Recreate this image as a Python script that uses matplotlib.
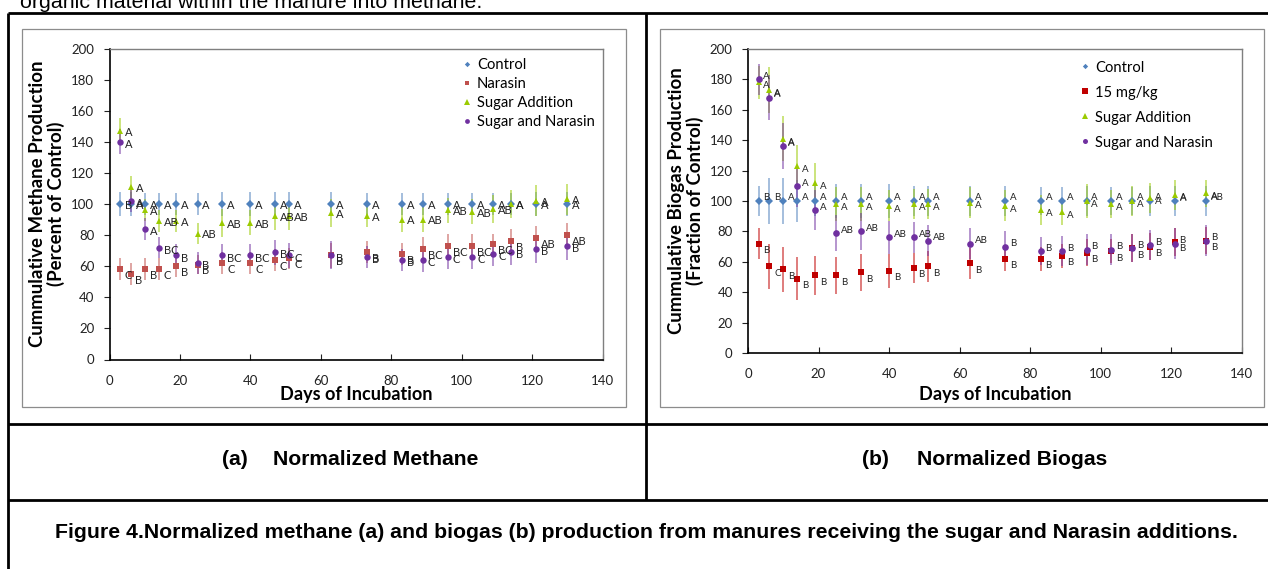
"""Normalized methane and biogas production figure (two panels in a table layout)."""
import matplotlib
matplotlib.use("Agg")
import matplotlib.pyplot as plt
from matplotlib.colors import to_rgba
from matplotlib.lines import Line2D
from matplotlib.patches import Rectangle

W, H = 1268, 569

days = [3, 6, 10, 14, 19, 25, 32, 40, 47, 51, 63, 73, 83, 89, 96, 103, 109, 114, 121, 130]

# (a) cumulative methane, percent of control
ch4_control = [100, 100, 100, 100, 100, 100, 100, 100, 100, 100, 100, 100, 100, 100, 100, 100, 100, 100, 100, 100]
ch4_control_err = [8, 8, 7, 7, 7, 7, 8, 8, 8, 8, 8, 7, 7, 7, 7, 7, 7, 7, 8, 8]
ch4_narasin = [58, 55, 58, 58, 60, 61, 62, 62, 64, 65, 67, 69, 68, 71, 73, 73, 74, 76, 78, 80]
ch4_narasin_err = [7, 7, 7, 7, 7, 6, 7, 7, 7, 7, 8, 7, 7, 8, 8, 8, 7, 8, 8, 8]
ch4_sugar = [147, 111, 96, 89, 89, 81, 88, 88, 92, 92, 94, 92, 90, 90, 96, 95, 97, 100, 102, 103]
ch4_sugar_err = [8, 7, 7, 7, 7, 7, 9, 8, 9, 9, 9, 7, 8, 8, 8, 8, 9, 9, 10, 10]
ch4_sugnar = [140, 102, 84, 72, 67, 62, 67, 67, 69, 67, 67, 66, 64, 64, 66, 66, 68, 69, 71, 73]
ch4_sugnar_err = [8, 7, 7, 7, 7, 7, 7, 7, 8, 8, 9, 7, 7, 8, 8, 8, 8, 8, 9, 9]

ch4_control_lbl = ["B", "A", "A", "A", "A", "A", "A", "A", "A", "A", "A", "A", "A", "A", "A", "A", "A", "A", "A", "A"]
ch4_narasin_lbl = ["C", "B", "B", "C", "B", "B", "C", "C", "C", "C", "B", "B", "B", "BC", "BC", "BC", "BC", "B", "AB", "AB"]
ch4_sugar_lbl = ["A", "A", "A", "AB", "A", "AB", "AB", "AB", "AB", "AB", "A", "A", "A", "AB", "AB", "AB", "AB", "A", "A", "A"]
ch4_sugnar_lbl = ["A", "A", "A", "BC", "B", "B", "BC", "BC", "BC", "C", "B", "B", "B", "C", "C", "C", "C", "B", "B", "B"]

# (b) cumulative biogas, fraction of control
gas_control = [100, 100, 100, 100, 100, 100, 100, 100, 100, 100, 100, 100, 100, 100, 100, 100, 100, 100, 100, 100]
gas_control_err = [10, 15, 15, 14, 10, 11, 11, 11, 10, 10, 10, 10, 9, 9, 10, 9, 9, 10, 10, 10]
gas_narasin = [72, 57, 55, 49, 51, 51, 53, 54, 56, 57, 59, 62, 62, 64, 66, 67, 69, 70, 73, 74]
gas_narasin_err = [10, 15, 15, 14, 13, 12, 12, 11, 10, 10, 10, 8, 8, 8, 9, 8, 9, 9, 9, 9]
gas_sugar = [178, 173, 141, 123, 112, 98, 98, 97, 98, 98, 99, 97, 94, 93, 100, 98, 100, 102, 104, 105]
gas_sugar_err = [11, 15, 15, 14, 13, 11, 11, 10, 10, 10, 10, 10, 10, 9, 11, 9, 10, 10, 10, 9]
gas_sugnar = [180, 168, 136, 110, 94, 79, 80, 76, 76, 74, 72, 70, 67, 67, 68, 68, 69, 71, 72, 74]
gas_sugnar_err = [10, 15, 15, 14, 13, 12, 12, 11, 10, 10, 10, 10, 9, 10, 10, 10, 9, 10, 10, 10]

gas_control_lbl = ["B", "B", "A", "A", "A", "A", "A", "A", "A", "A", "A", "A", "A", "A", "A", "A", "A", "A", "A", "AB"]
gas_narasin_lbl = ["B", "C", "B", "B", "B", "B", "B", "B", "B", "B", "B", "B", "B", "B", "B", "B", "B", "B", "B", "B"]
gas_sugar_lbl = ["A"] * 20
gas_sugnar_lbl = ["A", "A", "A", "A", "A", "AB", "AB", "AB", "AB", "AB", "AB", "B", "B", "B", "B", "B", "B", "B", "B", "B"]

BLUE = "#4F81BD"
BROWN = "#C0504D"
RED = "#C00000"
LIME = "#9BCB00"
PURPLE = "#7030A0"
CALIBRI = "Lato"

plt.rcParams["font.family"] = ["Lato", "DejaVu Sans"]


def px_axes(fig, left, top, right, bottom):
    return fig.add_axes([left / W, 1 - bottom / H, (right - left) / W, (bottom - top) / H])


def draw_panel(ax, series, lbl_size, leg_spacing, leg_anchor):
    handles = []
    for name, vals, errs, lbls, color, marker, ms, dy in series:
        ax.errorbar(days, vals, yerr=errs, fmt=marker, color=color, ms=ms, mew=0,
                    ecolor=to_rgba(color, 0.65), elinewidth=1.1, capsize=2, capthick=1.1, zorder=3)
        for d, v, lab in zip(days, vals, lbls):
            ax.annotate(lab, (d, v), xytext=(3.5, dy), textcoords="offset points",
                        fontsize=lbl_size, va="center", ha="left", color="#222222", zorder=4)
        handles.append(Line2D([], [], ls="", marker=marker, color=color, ms=ms * 0.75, mew=0, label=name))

    ax.set_xlim(0, 140)
    ax.set_ylim(0, 200)
    ax.set_xticks(range(0, 141, 20))
    ax.set_yticks(range(0, 201, 20))
    ax.tick_params(axis="x", direction="in", length=4, pad=11, labelsize=9.5, colors="#222222")
    ax.tick_params(axis="y", direction="out", length=4, pad=7, labelsize=9.5, colors="#222222")
    for side in ("top", "right"):
        ax.spines[side].set_color("#7f7f7f")
        ax.spines[side].set_linewidth(1.0)
    for side in ("left", "bottom"):
        ax.spines[side].set_color("black")
        ax.spines[side].set_linewidth(1.2)

    ax.legend(handles=handles, loc="upper left", bbox_to_anchor=leg_anchor,
              bbox_transform=ax.figure.transFigure, frameon=False, fontsize=10.6,
              handlelength=0.6, handletextpad=0.35, labelspacing=leg_spacing,
              borderpad=0, borderaxespad=0)


fig = plt.figure(figsize=(W / 100, H / 100), dpi=100)

# page / table background in pixel coordinates
bg = fig.add_axes([0, 0, 1, 1])
bg.set_xlim(0, W)
bg.set_ylim(H, 0)
bg.axis("off")

bg.text(20, 7.5, "organic material within the manure into methane.", fontsize=15.4,
        family="Liberation Sans", va="baseline", ha="left")

# table rules
rule = dict(color="black", lw=2.0, solid_capstyle="butt")
bg.plot([8, W], [13, 13], **rule)
bg.plot([8, 8], [13, H], **rule)
bg.plot([646, 646], [13, 499.5], **rule)
bg.plot([8, W], [424, 424], **rule)
bg.plot([8, W], [499.5, 499.5], **rule)

# chart area borders
bg.add_patch(Rectangle((22, 29), 604, 378, fill=False, edgecolor="#8c8c8c", lw=0.9))
bg.add_patch(Rectangle((660, 29), 604, 378, fill=False, edgecolor="#8c8c8c", lw=0.9))

# axis titles
ytitle = dict(rotation=90, ha="center", va="center", fontsize=13.4, fontweight="bold",
              family=CALIBRI, linespacing=1.0)
bg.text(47, 204, "Cummulative Methane Production\n(Percent of Control)", **ytitle)
bg.text(686, 201, "Cummulative Biogas Production\n(Fraction of Control)", **ytitle)
bg.text(356, 394, "Days of Incubation", ha="center", va="center", fontsize=13.1,
        fontweight="bold", family=CALIBRI)
bg.text(995, 394, "Days of Incubation", ha="center", va="center", fontsize=13.1,
        fontweight="bold", family=CALIBRI)

# panel captions
cap = dict(fontsize=15.2, fontweight="bold", family="Liberation Sans", va="center", ha="left")
bg.text(222, 459, "(a)", **cap)
bg.text(273, 459, "Normalized Methane", **cap)
bg.text(862, 459, "(b)", **cap)
bg.text(917, 459, "Normalized Biogas", **cap)
bg.text(55, 532, "Figure 4.Normalized methane (a) and biogas (b) production from manures receiving "
        "the sugar and Narasin additions.", fontsize=15.3, fontweight="bold",
        family="Liberation Sans", va="center", ha="left")

ax_a = px_axes(fig, 109.5, 48.5, 602.7, 359.5)
draw_panel(ax_a, [
    ("Control", ch4_control, ch4_control_err, ch4_control_lbl, BLUE, "D", 3.6, -1),
    ("Narasin", ch4_narasin, ch4_narasin_err, ch4_narasin_lbl, BROWN, "s", 4.6, -4.5),
    ("Sugar Addition", ch4_sugar, ch4_sugar_err, ch4_sugar_lbl, LIME, "^", 5.0, -1),
    ("Sugar and Narasin", ch4_sugnar, ch4_sugnar_err, ch4_sugnar_lbl, PURPLE, "o", 4.6, -2),
], lbl_size=8, leg_spacing=0.34, leg_anchor=(463 / W, 1 - 58 / H))

ax_b = px_axes(fig, 748, 49, 1241.7, 353)
draw_panel(ax_b, [
    ("Control", gas_control, gas_control_err, gas_control_lbl, BLUE, "D", 3.6, 2.5),
    ("15 mg/kg", gas_narasin, gas_narasin_err, gas_narasin_lbl, RED, "s", 5.0, -5),
    ("Sugar Addition", gas_sugar, gas_sugar_err, gas_sugar_lbl, LIME, "^", 5.0, -2.5),
    ("Sugar and Narasin", gas_sugnar, gas_sugnar_err, gas_sugnar_lbl, PURPLE, "o", 4.8, 2),
], lbl_size=7, leg_spacing=0.75, leg_anchor=(1081 / W, 1 - 60.5 / H))

fig.savefig("out.png", dpi=100)
plt.close(fig)
